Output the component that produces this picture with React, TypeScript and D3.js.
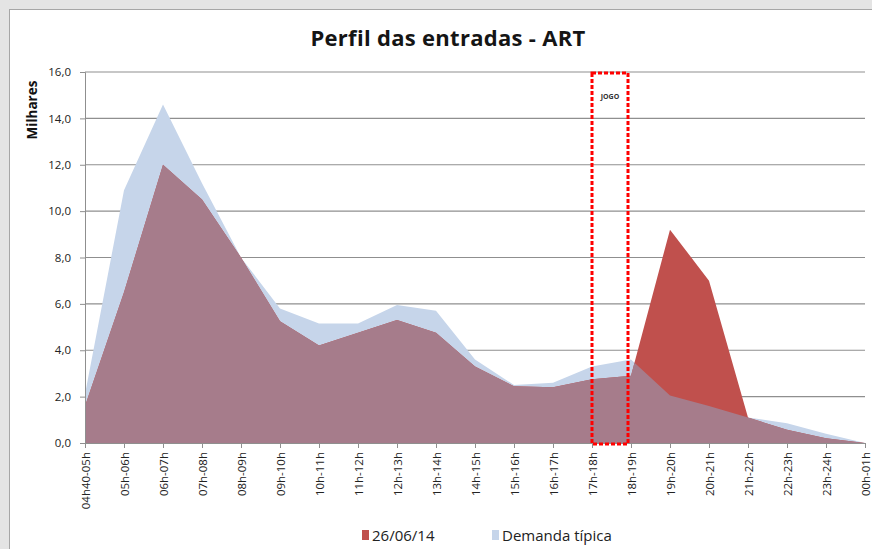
import { useEffect, useRef } from 'react';
import * as d3 from 'd3';

const categories = [
  '04h40-05h', '05h-06h', '06h-07h', '07h-08h', '08h-09h', '09h-10h', '10h-11h',
  '11h-12h', '12h-13h', '13h-14h', '14h-15h', '15h-16h', '16h-17h', '17h-18h',
  '18h-19h', '19h-20h', '20h-21h', '21h-22h', '22h-23h', '23h-24h', '00h-01h',
];
const dia = [1.6, 6.5, 12.0, 10.5, 8.0, 5.25, 4.2, 4.75, 5.3, 4.75, 3.3, 2.45, 2.4, 2.75, 2.9, 9.2, 7.0, 1.1, 0.57, 0.2, 0.0];
const tipica = [2.1, 10.9, 14.6, 11.2, 8.0, 5.8, 5.15, 5.15, 5.95, 5.7, 3.6, 2.5, 2.6, 3.3, 3.6, 2.05, 1.6, 1.1, 0.85, 0.4, 0.0];
const yTicks = [0, 2, 4, 6, 8, 10, 12, 14, 16];
const legendLabels = ['26/06/14', 'Demanda típica'];
const annotationCats = ['17h-18h', '18h-19h'];

const W = 872, H = 549;
const FONT = '"Open Sans", Lato, sans-serif';
const RED = '#c0504d', BLUE = '#c6d5ea', MAUVE = '#a67c8b';

export default function App() {
  const svgRef = useRef<SVGSVGElement>(null);

  useEffect(() => {
    if (!svgRef.current) return;
    const svg = d3.select(svgRef.current);
    svg.selectAll('*').remove();

    const M = { left: 85, right: 7, top: 72, bottom: 106 };
    const x = d3.scalePoint<string>().domain(categories).range([M.left, W - M.right]);
    const y = d3.scaleLinear().domain([0, 16]).range([H - M.bottom, M.top]);

    // background + panel
    svg.append('rect').attr('width', W).attr('height', H).attr('fill', '#e4e4e4');
    svg.append('rect').attr('x', 9.5).attr('y', 9.5).attr('width', W).attr('height', H)
      .attr('fill', '#fff').attr('stroke', '#a6a6a6');

    svg.append('text')
      .attr('x', 448).attr('y', 46)
      .attr('text-anchor', 'middle')
      .attr('font-family', FONT).attr('font-weight', 700).attr('font-size', 22)
      .attr('letter-spacing', 0.3)
      .attr('fill', '#151515')
      .text('Perfil das entradas - ART');

    // gridlines
    const g = svg.append('g');
    yTicks.filter((t) => t > 0).forEach((t) => {
      g.append('line')
        .attr('x1', M.left).attr('x2', W - M.right)
        .attr('y1', y(t)).attr('y2', y(t))
        .attr('stroke', '#8f8f8f').attr('stroke-width', 1.2);
    });

    // areas: typical demand, the day, and their overlap (day clipped by typical)
    const area = d3.area<number>()
      .x((_, i) => x(categories[i])!)
      .y0(y(0))
      .y1((d) => y(d));

    svg.append('defs').append('clipPath').attr('id', 'clip-tipica')
      .append('path').attr('d', area(tipica));

    g.append('path').attr('d', area(tipica)).attr('fill', BLUE);
    g.append('path').attr('d', area(dia)).attr('fill', RED);
    g.append('path').attr('d', area(dia)).attr('fill', MAUVE).attr('clip-path', 'url(#clip-tipica)');

    // y axis
    const yAxis = d3.axisLeft(y).tickValues(yTicks).tickSize(5)
      .tickFormat((d) => (d as number).toFixed(1).replace('.', ','));
    const ya = g.append('g').attr('transform', `translate(${M.left},0)`).call(yAxis);
    ya.select('.domain').attr('stroke', '#8f8f8f');
    ya.selectAll('line').attr('stroke', '#8f8f8f');
    ya.selectAll('text').attr('font-family', FONT).attr('font-size', 11.5).attr('fill', '#222').attr('dx', -6);

    // x axis
    const xAxis = d3.axisBottom(x).tickSize(5).tickSizeOuter(0);
    const xa = g.append('g').attr('transform', `translate(0,${y(0)})`).call(xAxis);
    xa.select('.domain').attr('stroke', '#8f8f8f');
    xa.selectAll('line').attr('stroke', '#8f8f8f');
    xa.selectAll('text')
      .attr('font-family', FONT).attr('font-size', 11.5).attr('fill', '#222')
      .attr('text-anchor', 'end')
      .attr('transform', 'rotate(-90)')
      .attr('x', -9).attr('y', 0).attr('dy', '0.35em');

    svg.append('text')
      .attr('transform', 'translate(37,110) rotate(-90)')
      .attr('text-anchor', 'middle')
      .attr('font-family', FONT).attr('font-weight', 700).attr('font-size', 13.5)
      .attr('fill', '#111')
      .text('Milhares');

    // annotation box
    const bx0 = x(annotationCats[0])!;
    const bx1 = x(annotationCats[1])! - 3;
    g.append('rect')
      .attr('x', bx0).attr('y', y(16) + 1)
      .attr('width', bx1 - bx0).attr('height', y(0) - y(16))
      .attr('fill', 'none').attr('stroke', '#ff0000').attr('stroke-width', 3)
      .attr('stroke-dasharray', '4,2');
    g.append('text')
      .attr('x', (bx0 + bx1) / 2).attr('y', y(16) + 27)
      .attr('text-anchor', 'middle')
      .attr('font-family', FONT).attr('font-size', 7).attr('font-weight', 700)
      .attr('fill', '#333')
      .text('JOGO');

    // legend
    const leg = svg.append('g').attr('font-family', FONT).attr('font-size', 15);
    [RED, BLUE].forEach((c, i) => {
      const lx = i === 0 ? 362 : 492;
      leg.append('rect').attr('x', lx).attr('y', 530).attr('width', 7).attr('height', 10).attr('fill', c);
      leg.append('text').attr('x', lx + 10).attr('y', 540.5).attr('fill', '#222').text(legendLabels[i]);
    });
  }, []);

  return (
    <svg
      ref={svgRef}
      width={W}
      height={H}
      style={{ position: 'absolute', left: 0, top: 0 }}
    />
  );
}
